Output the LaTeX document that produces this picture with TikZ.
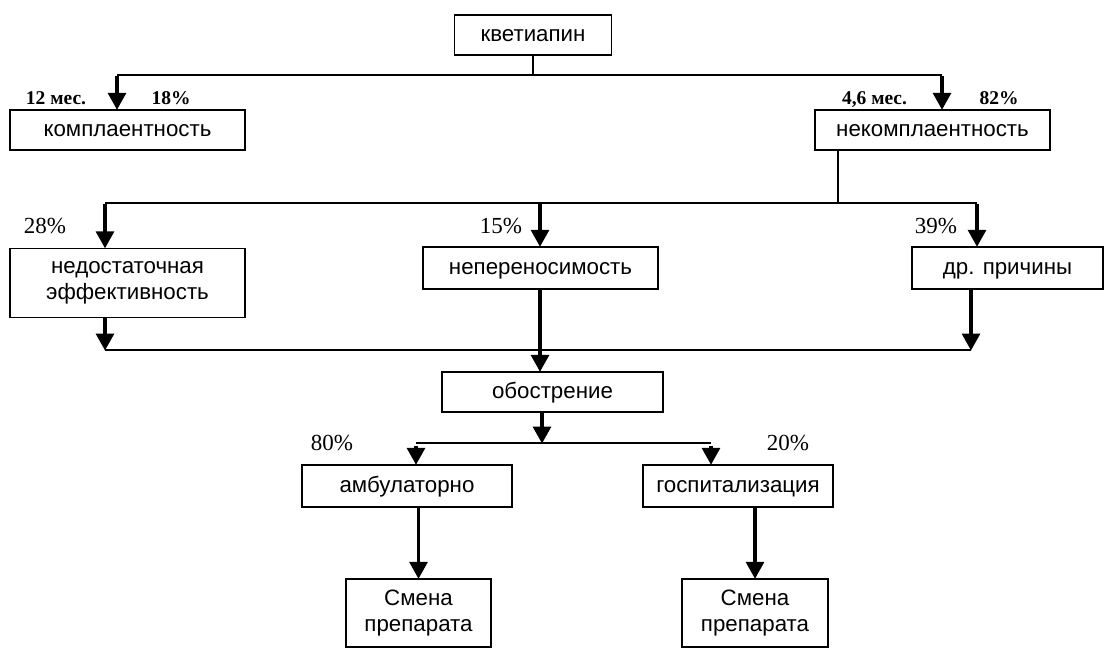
\documentclass[tikz,border=0pt]{standalone}
\usepackage{fontspec}
\setmainfont{Liberation Serif}
\newfontfamily\boxfont{Liberation Sans}
\usetikzlibrary{arrows.meta}
\begin{document}
\begin{tikzpicture}[x=1pt,y=-1pt,
  box/.style={draw, line width=1.4pt, inner sep=0pt,
    font=\boxfont\fontsize{22.3}{25.5}\selectfont, text height=12pt, text depth=0pt},
  box2/.style={draw, line width=1.4pt, align=center, inner sep=0pt,
    font=\boxfont\fontsize{22.3}{25.5}\selectfont},
  thin/.style={line width=1.5pt},
  arr/.style={line width=3.2pt, -{Triangle[length=17pt,width=18pt]}, shorten >=-0.5pt},
  pct/.style={font=\fontsize{23}{26}\selectfont, inner sep=0pt, anchor=base},
  bpct/.style={font=\bfseries\fontsize{19.5}{22}\selectfont, inner sep=0pt, anchor=base}]
\useasboundingbox (0,0) rectangle (1113,648);

\node[box, minimum width=157pt, minimum height=40pt] (kvet) at (533,35) {кветиапин};
\node[box, minimum width=235pt, minimum height=40pt] (compl) at (127.5,130) {комплаентность};
\node[box, minimum width=235pt, minimum height=40pt] (nek) at (932.5,130) {некомплаентность};
\node[box2, minimum width=235pt, minimum height=69pt] (ned) at (127.5,283) {недостаточная\\эффективность};
\node[box, minimum width=235pt, minimum height=42pt] (nep) at (540.5,268) {непереносимость};
\node[box, minimum width=191pt, minimum height=42pt] (drp) at (1007.5,268) {др. причины};
\node[box, minimum width=221pt, minimum height=40pt] (obo) at (552.5,392) {обострение};
\node[box, minimum width=210pt, minimum height=42pt] (amb) at (407,486) {амбулаторно};
\node[box, minimum width=190pt, minimum height=42pt] (gos) at (738,486) {госпитализация};
\node[box2, minimum width=145pt, minimum height=68pt] (sm1) at (418.5,613) {Смена\\препарата};
\node[box2, minimum width=146pt, minimum height=68pt] (sm2) at (755,613) {Смена\\препарата};

% labels
\node[bpct] (l1) at (56,104) {12 мес.};
\node[bpct] (l2) at (171,104) {18\%};
\node[bpct] (l3) at (874.5,104) {4,6 мес.};
\node[bpct] (l4) at (999,104) {82\%};
\node[pct] (l5) at (45,233) {28\%};
\node[pct] (l6) at (501,233) {15\%};
\node[pct] (l7) at (936,233) {39\%};
\node[pct] (l8) at (332,450) {80\%};
\node[pct] (l9) at (788,450) {20\%};

% junction coordinates
\coordinate (j1) at (533,75);
\coordinate (j1L) at (117,75);
\coordinate (j1R) at (942,75);
\coordinate (j2) at (838,203);
\coordinate (j2L) at (105,203);
\coordinate (j2M) at (540,203);
\coordinate (j2R) at (977,203);
\coordinate (j3L) at (105,350);
\coordinate (j3R) at (971,350);
\coordinate (j4) at (542,443);
\coordinate (j4L) at (416,443);
\coordinate (j4R) at (711,443);

% top level
\draw[thin] (kvet.south) -- (j1);
\draw[thin] (j1L) -- (j1R);
\draw[arr] ([yshift=-1pt]j1L) -- (j1L |- compl.north);
\draw[arr] ([yshift=-1pt]j1R) -- (j1R |- nek.north);

% second level
\draw[thin] (j2 |- nek.south) -- (j2);
\draw[thin] (j2L) -- (j2R);
\draw[arr] ([yshift=-1pt]j2L) -- (j2L |- ned.north);
\draw[arr] ([yshift=-1pt]j2M) -- (j2M |- nep.north);
\draw[arr] ([yshift=-1pt]j2R) -- (j2R |- drp.north);

% converge
\draw[arr] (j3L |- ned.south) -- (j3L);
\draw[arr] (j3R |- drp.south) -- (j3R);
\draw[thin] (j3L) -- (j3R);
\draw[arr] (j2M |- nep.south) -- (j2M |- obo.north);

% обострение
\draw[arr] (j4 |- obo.south) -- (j4);
\draw[thin] (j4L) -- (j4R);
\draw[arr] ([yshift=-3pt]j4L) -- (j4L |- amb.north);
\draw[arr] ([yshift=-3pt]j4R) -- (j4R |- gos.north);

% bottom
\draw[arr] (sm1.north |- amb.south) -- (sm1.north);
\draw[arr] (sm2.north |- gos.south) -- (sm2.north);
\end{tikzpicture}
\end{document}
